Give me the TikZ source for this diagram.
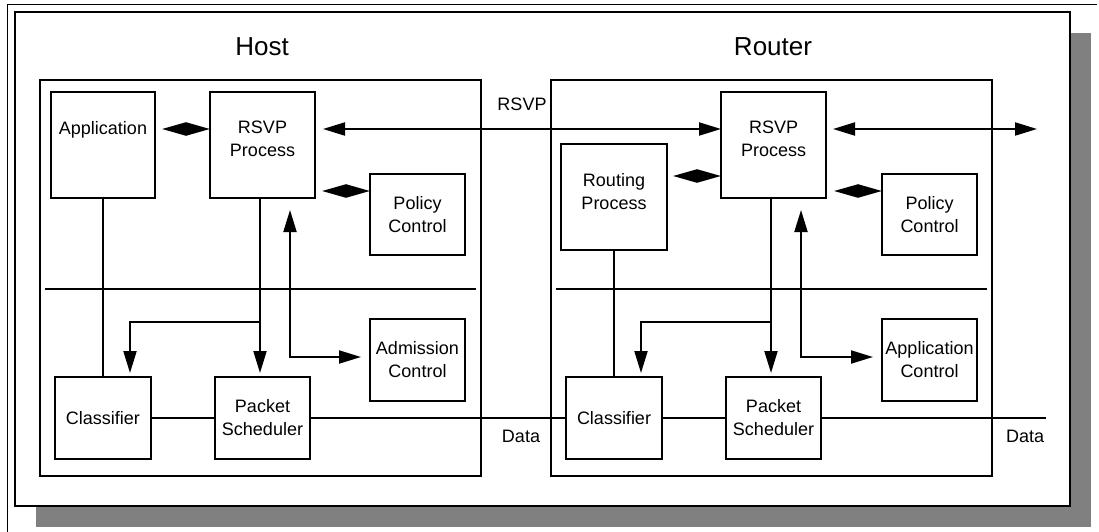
\documentclass[tikz,border=0pt]{standalone}
\usepackage{fontspec}
\setmainfont{Liberation Sans}
\usetikzlibrary{
    positioning,
    arrows.meta
}
\definecolor{shadow gray}{HTML}{808080}
\tikzset{%
    box/.style={%
        rectangle,
        draw,
        line width=2pt,
        inner sep = 0pt,
        outer sep = 0pt,
        align=center,
        font=\fontsize{18}{23}\selectfont
    },
    block/.style={%
        box,
        minimum width=95,
        minimum height=82
    },
    tall block/.style={%
        box,
        minimum width=105,
        minimum height=106
    },
    top text/.style={%
        anchor=north,
        inner sep=0pt,
        yshift=-29pt,
        align=center,
        font=\fontsize{18}{23}\selectfont
    },
    side/.style={%
        draw,
        line width=2pt,
        inner sep=0pt,
        minimum width=441,
        minimum height=396
    },
    heading/.style={%
        font=\fontsize{26}{30}\selectfont
    },
    tag/.style={%
        font=\fontsize{18}{23}\selectfont
    },
    wire/.style={%
        line width=2pt
    },
    arrow/.style={%
        wire,
        -{Triangle[length=22pt,width=13pt]}
    },
    double arrow/.style={%
        wire,
        {Triangle[length=22pt,width=13pt]}-{Triangle[length=22pt,width=13pt]}
    },
    diamond arrow/.style={%
        wire,
        {Triangle[length=24pt,width=13pt]}-{Triangle[length=24pt,width=13pt]}
    },
}

\begin{document}
\begin{tikzpicture}[x=1pt, y=-1pt]
    \useasboundingbox (0,0) rectangle (1099,532);

    % page frame and shadow
    \draw[line width=1pt] (7,532) -- (7,5) -- (1097,5);
    \fill[shadow gray] (36,33) rectangle (1091,527);
    \draw[line width=2.8pt, fill=white] (15,12) rectangle (1070,506);

    % host
    \node[side] (host) at (260.5,278) {};
    \node[heading] (hostTitle) at (262,47) {Host};
    \draw[line width=2pt] (45,289) -- (476,289);
    \node[tall block, minimum width=104, label={[top text]north:Application}] (hostApp) at (103,145) {};
    \node[tall block, label={[top text]north:RSVP\\Process}] (hostRSVP) at (262.5,145) {};
    \node[block, minimum height=81] (hostPolicy) at (417.5,214.5) {Policy\\Control};
    \node[block] (hostAdm) at (417.5,360) {Admission\\Control};
    \node[block, minimum width=96] (hostCls) at (103,418) {Classifier};
    \node[block] (hostPkt) at (262.5,418) {Packet\\Scheduler};

    % router
    \node[side] (router) at (771.5,278) {};
    \node[heading] (routerTitle) at (773,47) {Router};
    \draw[line width=2pt] (556,289) -- (987,289);
    \node[tall block, minimum width=106, label={[top text]north:Routing\\Process}] (routerRouting) at (614,197) {};
    \node[tall block, label={[top text]north:RSVP\\Process}] (routerRSVP) at (773.5,145) {};
    \node[block, minimum height=81] (routerPolicy) at (929.5,214.5) {Policy\\Control};
    \node[block] (routerApp) at (929.5,360) {Application\\Control};
    \node[block, minimum width=96] (routerCls) at (614,418) {Classifier};
    \node[block] (routerPkt) at (773.5,418) {Packet\\Scheduler};

    % labels and free ends
    \node[tag] (rsvpTag) at (522,104.5) {RSVP};
    \node[tag] (hostData) at (521,436.5) {Data};
    \node[tag] (routerData) at (1025,436.5) {Data};
    \coordinate (rsvpOut) at (1037,129);
    \coordinate (dataOut) at (1046,418);
    \coordinate (hostSplit) at (260,322);
    \coordinate (routerSplit) at (771,322);

    % RSVP messages
    \draw[diamond arrow] ([xshift=7pt,yshift=16pt]hostApp.east) -- ([yshift=16pt]hostRSVP.west);
    \draw[double arrow] ([xshift=8pt,yshift=16pt]hostRSVP.east) -- ([yshift=16pt]routerRSVP.west);
    \draw[double arrow] ([xshift=7pt,yshift=16pt]routerRSVP.east) -- (rsvpOut);
    \draw[diamond arrow] ([xshift=7pt,yshift=7pt]hostRSVP.south east) -- ([yshift=23.5pt]hostPolicy.west);
    \draw[diamond arrow] ([xshift=8pt,yshift=7pt]routerRSVP.south east) -- ([yshift=23.5pt]routerPolicy.west);
    \draw[diamond arrow] ([xshift=6pt,yshift=21pt]routerRouting.east) -- ([yshift=-31pt]routerRSVP.west);

    % control paths
    \draw[wire] (hostApp) -- (hostCls);
    \draw[arrow, shorten >=4pt] ([xshift=-2.5pt]hostRSVP.south) -- ([xshift=-2.5pt]hostPkt.north);
    \draw[arrow, shorten >=4pt] (hostSplit) -| ([xshift=27pt]hostCls.north);
    \draw[double arrow] ([xshift=27.5pt,yshift=-12pt]hostRSVP.south) |- ([xshift=-9pt,yshift=3pt]hostAdm.west);
    \draw[wire] (routerRouting) -- (routerCls);
    \draw[arrow, shorten >=4pt] ([xshift=-2.5pt]routerRSVP.south) -- ([xshift=-2.5pt]routerPkt.north);
    \draw[arrow, shorten >=4pt] (routerSplit) -| ([xshift=27pt]routerCls.north);
    \draw[double arrow] ([xshift=27.5pt,yshift=-12pt]routerRSVP.south) |- ([xshift=-9pt,yshift=3pt]routerApp.west);

    % data path
    \draw[wire] (hostCls) -- (hostPkt);
    \draw[wire] (hostPkt) -- (routerCls);
    \draw[wire] (routerCls) -- (routerPkt);
    \draw[wire] (routerPkt) -- (dataOut);
\end{tikzpicture}
\end{document}
